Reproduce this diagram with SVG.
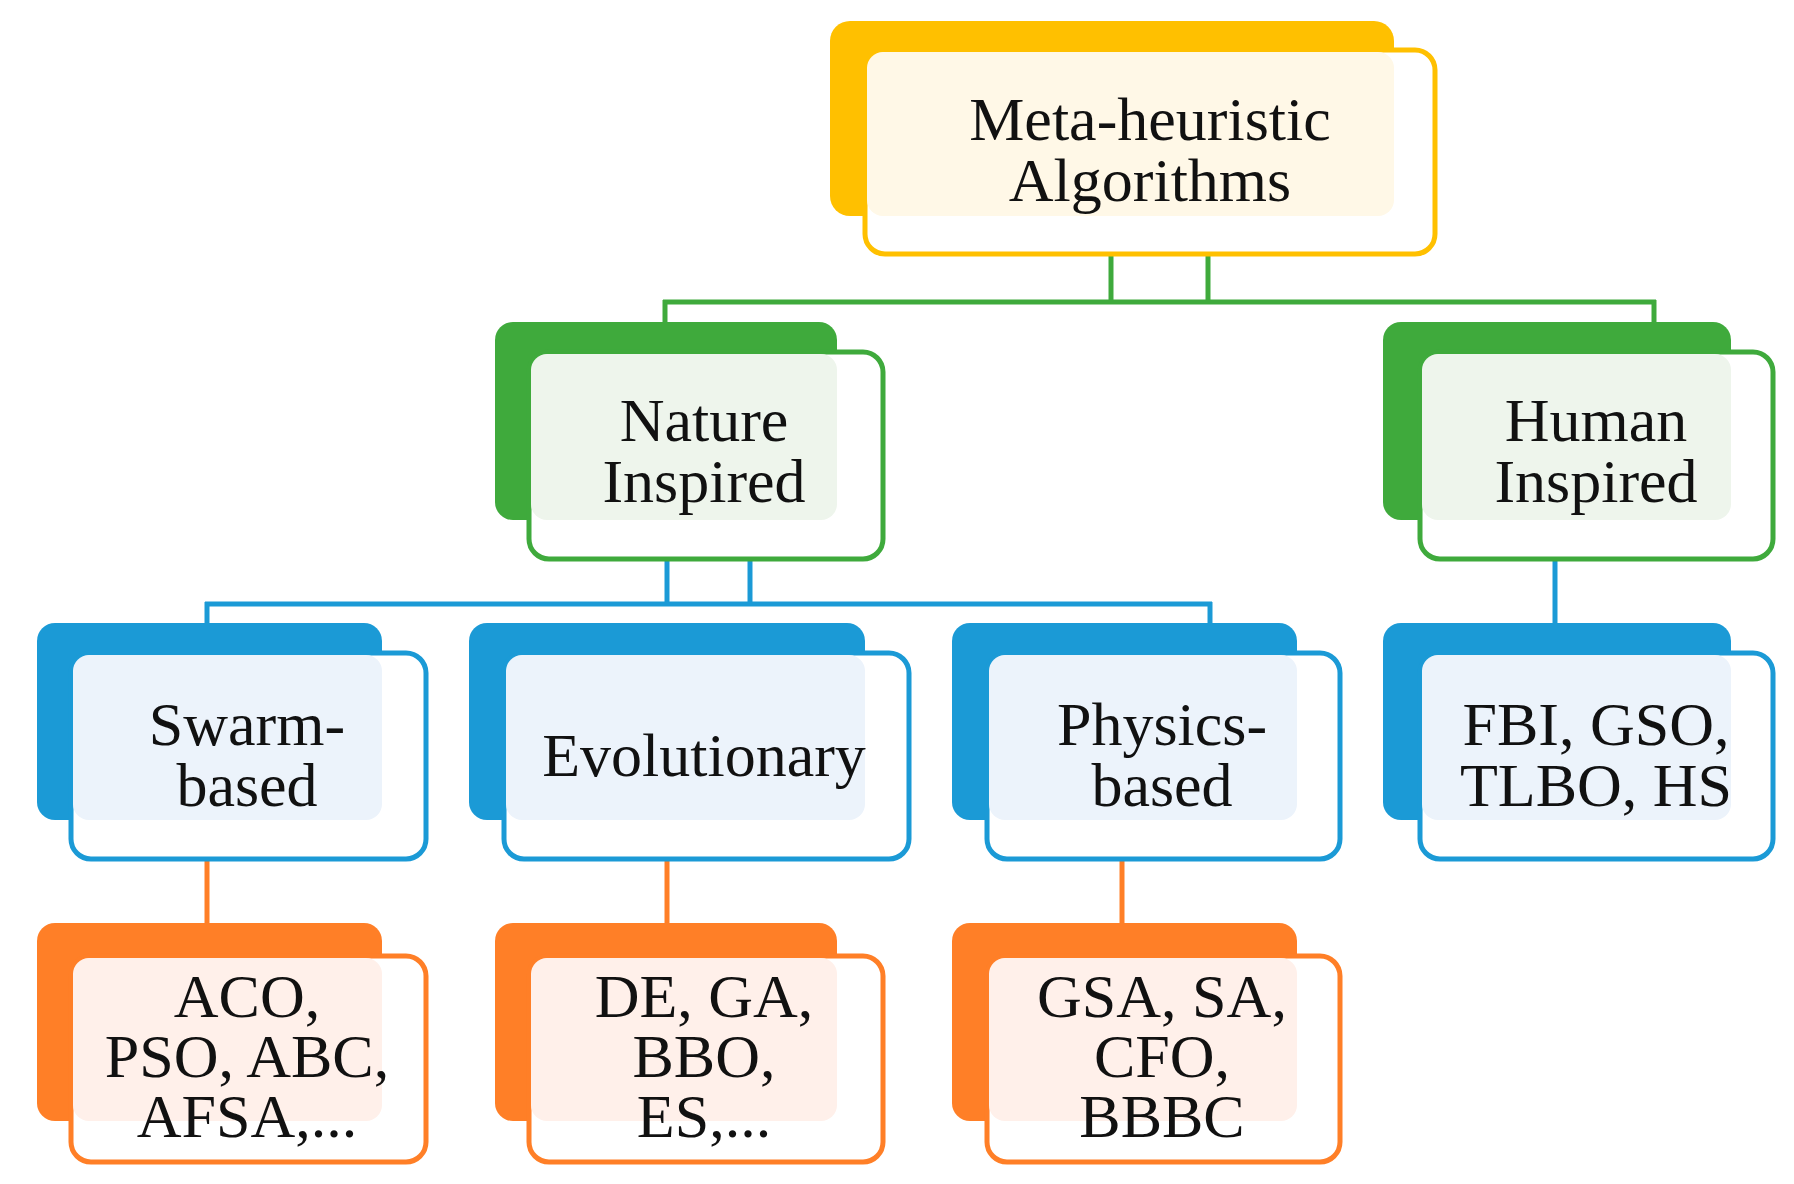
<svg xmlns="http://www.w3.org/2000/svg" width="1794" height="1184" viewBox="0 0 1794 1184">
<style>
text{font-family:"Liberation Serif","Times New Roman",serif;font-size:62px;fill:#111;text-anchor:middle}
.f{fill:#fff;stroke-width:5}
.y .b{fill:#FFC000}.y .f{stroke:#FFC000}.y .t{fill:#FFF8E7}
.g .b{fill:#3FAA3C}.g .f{stroke:#3FAA3C}.g .t{fill:#EEF5EC}
.u .b{fill:#1B9AD6}.u .f{stroke:#1B9AD6}.u .t{fill:#ECF3FB}
.o .b{fill:#FF7F27}.o .f{stroke:#FF7F27}.o .t{fill:#FFF0EA}
.c line{stroke-width:5}
</style>
<rect width="1794" height="1184" fill="#fff"/>
<g class="c">
<g stroke="#3FAA3C"><line x1="1111" y1="250" x2="1111" y2="302"/><line x1="1208" y1="250" x2="1208" y2="302"/><line x1="663" y1="302" x2="1656" y2="302"/><line x1="665" y1="300" x2="665" y2="322"/><line x1="1654" y1="300" x2="1654" y2="322"/></g>
<g stroke="#1B9AD6"><line x1="667" y1="556" x2="667" y2="604"/><line x1="750" y1="556" x2="750" y2="604"/><line x1="205" y1="604" x2="1212" y2="604"/><line x1="207" y1="602" x2="207" y2="623"/><line x1="1210" y1="602" x2="1210" y2="623"/><line x1="1555" y1="556" x2="1555" y2="623"/></g>
<g stroke="#FF7F27"><line x1="207" y1="828" x2="207" y2="923"/><line x1="667" y1="828" x2="667" y2="923"/><line x1="1122" y1="828" x2="1122" y2="923"/></g>
</g>
<g id="meta" class="y"><rect class="b" x="830" y="21" width="564" height="195" rx="20"/><rect class="f" x="865" y="50" width="570" height="204" rx="20"/><rect class="t" x="867" y="52" width="527" height="164" rx="16"/><text x="1150" y="140">Meta-heuristic</text><text x="1150" y="201">Algorithms</text></g>
<g id="nature" class="g"><rect class="b" x="495" y="322" width="342" height="198" rx="18"/><rect class="f" x="529" y="352" width="354" height="207" rx="20"/><rect class="t" x="531" y="354" width="306" height="166" rx="16"/><text x="704" y="441">Nature</text><text x="704" y="502">Inspired</text></g>
<g id="human" class="g"><rect class="b" x="1383" y="322" width="348" height="198" rx="18"/><rect class="f" x="1420" y="352" width="353" height="207" rx="20"/><rect class="t" x="1422" y="354" width="309" height="166" rx="16"/><text x="1596" y="441">Human</text><text x="1596" y="502">Inspired</text></g>
<g id="swarm" class="u"><rect class="b" x="37" y="623" width="345" height="197" rx="18"/><rect class="f" x="71" y="653" width="355" height="206" rx="20"/><rect class="t" x="73" y="655" width="309" height="165" rx="16"/><text x="247" y="745">Swarm-</text><text x="247" y="806">based</text></g>
<g id="evo" class="u"><rect class="b" x="469" y="623" width="396" height="197" rx="18"/><rect class="f" x="504" y="653" width="405" height="206" rx="20"/><rect class="t" x="506" y="655" width="359" height="165" rx="16"/><text x="704" y="776">Evolutionary</text></g>
<g id="physics" class="u"><rect class="b" x="952" y="623" width="345" height="197" rx="18"/><rect class="f" x="987" y="653" width="353" height="206" rx="20"/><rect class="t" x="989" y="655" width="308" height="165" rx="16"/><text x="1162" y="745">Physics-</text><text x="1162" y="806">based</text></g>
<g id="fbi" class="u"><rect class="b" x="1383" y="623" width="348" height="197" rx="18"/><rect class="f" x="1420" y="653" width="353" height="206" rx="20"/><rect class="t" x="1422" y="655" width="309" height="165" rx="16"/><text x="1596" y="745">FBI, GSO,</text><text x="1596" y="806">TLBO, HS</text></g>
<g id="aco" class="o"><rect class="b" x="37" y="923" width="345" height="198" rx="18"/><rect class="f" x="71" y="956" width="355" height="206" rx="20"/><rect class="t" x="73" y="958" width="309" height="163" rx="16"/><text x="247" y="1017">ACO,</text><text x="247" y="1077">PSO, ABC,</text><text x="247" y="1137">AFSA,...</text></g>
<g id="de" class="o"><rect class="b" x="495" y="923" width="342" height="198" rx="18"/><rect class="f" x="529" y="956" width="354" height="206" rx="20"/><rect class="t" x="531" y="958" width="306" height="163" rx="16"/><text x="704" y="1017">DE, GA,</text><text x="704" y="1077">BBO,</text><text x="704" y="1137">ES,...</text></g>
<g id="gsa" class="o"><rect class="b" x="952" y="923" width="345" height="198" rx="18"/><rect class="f" x="987" y="956" width="353" height="206" rx="20"/><rect class="t" x="989" y="958" width="308" height="163" rx="16"/><text x="1162" y="1017">GSA, SA,</text><text x="1162" y="1077">CFO,</text><text x="1162" y="1137">BBBC</text></g>
</svg>
